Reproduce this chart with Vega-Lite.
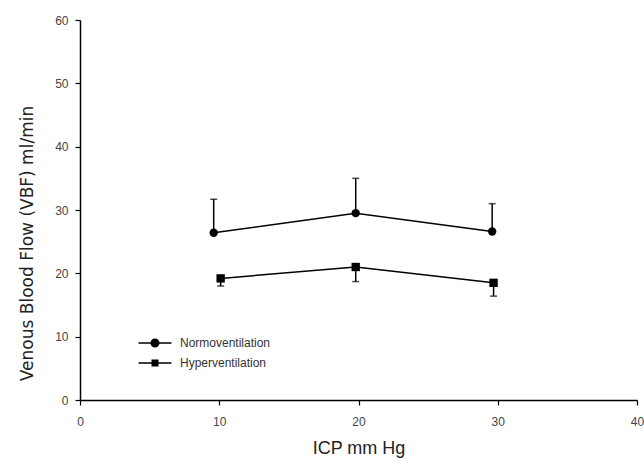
{
  "$schema": "https://vega.github.io/schema/vega-lite/v6.json",
  "width": 557,
  "height": 380,
  "autosize": "none",
  "padding": {"left": 80, "top": 20, "right": 7, "bottom": 65},
  "background": "white",
  "config": {
    "view": {"stroke": null},
    "font": "Liberation Sans",
    "axis": {
      "grid": false,
      "domainColor": "black",
      "domainWidth": 1.5,
      "tickColor": "black",
      "tickWidth": 1.2,
      "tickSize": 5,
      "labelColor": "#444",
      "labelFontSize": 12,
      "labelFont": "Liberation Sans",
      "titleFont": "Liberation Sans",
      "titleFontWeight": "normal",
      "titleColor": "#222"
    }
  },
  "data": {
    "values": [
      {"group": "Normoventilation", "icp": 9.6, "vbf": 26.4, "errLo": 26.4, "errHi": 31.7, "cap": 31.7},
      {"group": "Normoventilation", "icp": 19.8, "vbf": 29.5, "errLo": 29.5, "errHi": 35.0, "cap": 35.0},
      {"group": "Normoventilation", "icp": 29.6, "vbf": 26.6, "errLo": 26.6, "errHi": 31.0, "cap": 31.0},
      {"group": "Hyperventilation", "icp": 10.1, "vbf": 19.2, "errLo": 18.0, "errHi": 19.2, "cap": 18.0},
      {"group": "Hyperventilation", "icp": 19.8, "vbf": 21.0, "errLo": 18.7, "errHi": 21.0, "cap": 18.7},
      {"group": "Hyperventilation", "icp": 29.7, "vbf": 18.5, "errLo": 16.4, "errHi": 18.5, "cap": 16.4}
    ]
  },
  "encoding": {
    "x": {
      "field": "icp", "type": "quantitative",
      "scale": {"domain": [0, 40], "nice": false},
      "axis": {"values": [0, 10, 20, 30, 40], "title": "ICP mm Hg", "titleFontSize": 18, "titlePadding": 12, "labelPadding": 11, "labelFlush": false}
    }
  },
  "layer": [
    {
      "mark": {"type": "rule", "color": "black", "strokeWidth": 1.5},
      "encoding": {
        "y": {"field": "errLo", "type": "quantitative", "scale": {"domain": [0, 60], "nice": false}},
        "y2": {"field": "errHi"}
      }
    },
    {
      "mark": {"type": "tick", "orient": "horizontal", "color": "black", "size": 7, "thickness": 1.5},
      "encoding": {
        "y": {"field": "cap", "type": "quantitative"}
      }
    },
    {
      "mark": {"type": "line", "color": "black", "strokeWidth": 1.5},
      "encoding": {
        "y": {"field": "vbf", "type": "quantitative"},
        "detail": {"field": "group"}
      }
    },
    {
      "mark": {"type": "point", "filled": true, "color": "black", "opacity": 1},
      "encoding": {
        "y": {
          "field": "vbf", "type": "quantitative",
          "axis": {"values": [0, 10, 20, 30, 40, 50, 60], "title": "Venous Blood Flow (VBF) ml/min", "titleFont": "DejaVu Sans", "titleFontSize": 17, "titlePadding": 18, "labelPadding": 7, "titleY": 223}
        },
        "shape": {
          "field": "group", "type": "nominal",
          "scale": {"domain": ["Normoventilation", "Hyperventilation"], "range": ["circle", "square"]},
          "legend": null
        },
        "size": {"value": 70}
      }
    },
    {
      "mark": {"type": "point", "filled": true, "color": "black", "opacity": 0},
      "encoding": {
        "y": {"field": "vbf", "type": "quantitative"},
        "shape": {
          "field": "group", "type": "nominal",
          "scale": {"domain": ["Normoventilation", "Hyperventilation"], "range": ["M-3.3,-0.15L3.3,-0.15L3.3,0.15L-3.3,0.15ZM-0.9,0A0.9,0.9,0,1,1,0.9,0A0.9,0.9,0,1,1,-0.9,0Z", "M-3.3,-0.15L3.3,-0.15L3.3,0.15L-3.3,0.15ZM-0.7,-0.7L0.7,-0.7L0.7,0.7L-0.7,0.7Z"]},
          "legend": {
            "title": null,
            "orient": "none",
            "legendX": 69,
            "legendY": 317,
            "padding": 0,
            "symbolSize": 100,
            "symbolOpacity": 1,
            "symbolFillColor": "black",
            "labelOffset": 19,
            "labelFontSize": 12,
            "labelColor": "#333",
            "labelFont": "Liberation Sans",
            "rowPadding": 5
          }
        },
        "size": {"value": 0}
      }
    }
  ],
  "resolve": {"scale": {"shape": "independent"}}
}
